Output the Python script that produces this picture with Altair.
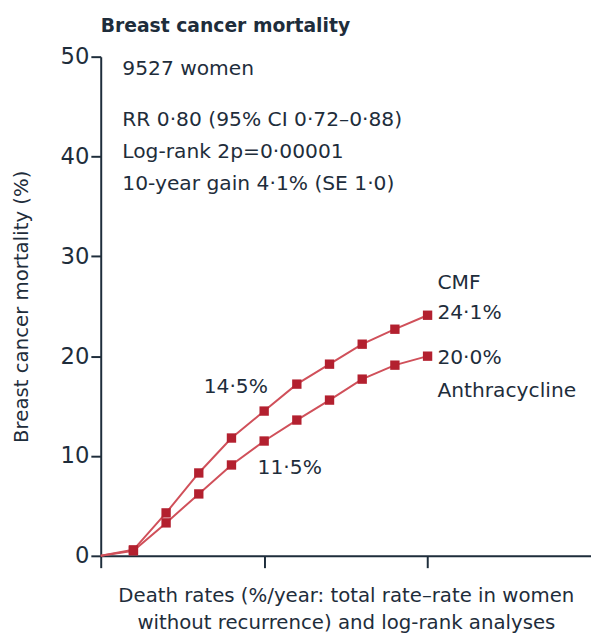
import altair as alt
import pandas as pd

# ---- data ----
years = [0, 1, 2, 3, 4, 5, 6, 7, 8, 9, 10]
cmf = [0.0, 0.6, 4.3, 8.3, 11.8, 14.5, 17.2, 19.2, 21.2, 22.7, 24.1]
anthracycline = [0.0, 0.5, 3.3, 6.2, 9.1, 11.5, 13.6, 15.6, 17.7, 19.1, 20.0]

y_ticks = [0, 10, 20, 30, 40, 50]
x_ticks = [0, 5, 10]

# annotation texts (x in years, y in %)
notes_text = ["9527 women", "RR 0·80 (95% CI 0·72–0·88)",
              "Log-rank 2p=0·00001", "10-year gain 4·1% (SE 1·0)",
              "CMF", "24·1%", "20·0%", "Anthracycline", "14·5%", "11·5%"]
notes_x = [0.66, 0.66, 0.66, 0.66, 10.3, 10.3, 10.3, 10.3, 3.15, 4.8]
notes_y = [48.8, 43.6, 40.4, 37.2, 27.3, 24.3, 19.8, 16.5, 16.9, 8.8]

TEXT = "#1e2d3b"
LINE = "#d0505a"
MARK = "#b3202f"
FONT = "DejaVu Sans"

rows = []
for yr, c, a in zip(years, cmf, anthracycline):
    rows.append({"year": yr, "value": c, "arm": "CMF"})
    rows.append({"year": yr, "value": a, "arm": "Anthracycline"})
df = pd.DataFrame(rows)
notes = pd.DataFrame({"text": notes_text, "x": notes_x, "y": notes_y})

xscale = alt.Scale(domain=[0, 15], nice=False, zero=True)
yscale = alt.Scale(domain=[0, 50], nice=False)

x_axis = alt.Axis(
    values=x_ticks, labels=False, grid=False,
    tickSize=12, tickWidth=2, tickColor=TEXT,
    domainWidth=2, domainColor=TEXT,
    title=["Death rates (%/year: total rate–rate in women",
           "without recurrence) and log-rank analyses"],
    titleFont=FONT, titleFontSize=20, titleFontWeight="normal",
    titleColor=TEXT, titleBaseline="top", titleY=30, titleLineHeight=28,
)
y_axis = alt.Axis(
    values=y_ticks, grid=False,
    tickSize=10, tickWidth=2, tickColor=TEXT,
    domainWidth=2, domainColor=TEXT,
    labelFont=FONT, labelFontSize=23, labelColor=TEXT, labelPadding=2,
    title="Breast cancer mortality (%)",
    titleFont=FONT, titleFontSize=20, titleFontWeight="normal",
    titleColor=TEXT, titleAngle=-90, titleX=-80, titleY=253,
    titleAlign="center", titleBaseline="middle",
)

base = alt.Chart(df)
lines = base.mark_line(color=LINE, strokeWidth=2).encode(
    x=alt.X("year:Q", scale=xscale, axis=x_axis),
    y=alt.Y("value:Q", scale=yscale, axis=y_axis),
    detail="arm:N",
)
points = base.transform_filter("datum.year > 0").mark_point(
    shape="square", filled=True, color=MARK, size=90, opacity=1
).encode(x="year:Q", y="value:Q")

texts = alt.Chart(notes).mark_text(
    align="left", baseline="middle", font=FONT, fontSize=20.5, color=TEXT
).encode(x="x:Q", y="y:Q", text="text:N")

chart = alt.layer(lines, points, texts).properties(
    width=497, height=506,
    autosize=alt.AutoSizeParams(type="none"),
    padding={"left": 94, "top": 45, "right": 0, "bottom": 82},
    title=alt.TitleParams(
        "Breast cancer mortality", anchor="start", frame="group",
        font=FONT, fontSize=19, fontWeight="bold", color=TEXT, offset=10,
    ),
).configure_view(stroke=None)

chart.save("out.html", embed_options={"renderer": "svg", "actions": False})
